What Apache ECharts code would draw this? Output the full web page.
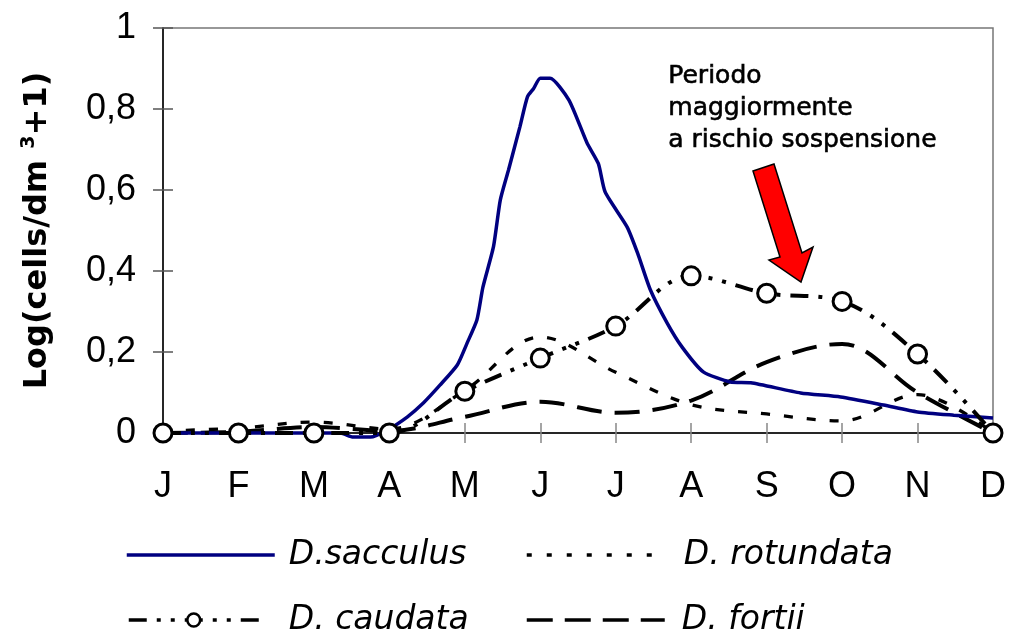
<!DOCTYPE html>
<html>
<head>
<meta charset="utf-8">
<script src="https://cdn.jsdelivr.net/npm/echarts@6/dist/echarts.min.js"></script>
<style>html,body{margin:0;padding:0;background:#fff}#c{width:1013px;height:642px}</style>
</head>
<body>
<div id="c"></div>
<script>
// ---- data ----
const months = ['J','F','M','A','M','J','J','A','S','O','N','D'];
const yTickLabels = ['0','0,2','0,4','0,6','0,8','1'];
// D. sacculus: denser sampling (position in months from January = 0)
const saccX = [0, 2.35, 2.52, 2.75, 2.97, 3.24, 3.45, 3.67, 3.90, 4.03, 4.16, 4.24, 4.38, 4.47, 4.58, 4.73, 4.83, 4.91, 5.0, 5.13, 5.38, 5.62, 5.77, 5.86, 6.15, 6.29, 6.46, 6.68, 6.88, 7.16, 7.52, 7.79, 8.45, 8.98, 9.55, 10.0, 10.48, 11.0];
const saccY = [0, 0, -0.01, -0.01, 0.007, 0.04, 0.074, 0.118, 0.168, 0.222, 0.279, 0.36, 0.46, 0.575, 0.65, 0.756, 0.83, 0.85, 0.876, 0.876, 0.822, 0.716, 0.665, 0.595, 0.509, 0.444, 0.353, 0.272, 0.212, 0.151, 0.126, 0.124, 0.099, 0.089, 0.069, 0.052, 0.044, 0.037];
const rotundata = [0.005, 0.012, 0.027, 0.01, 0.105, 0.237, 0.15, 0.07, 0.047, 0.03, 0.095, 0];
const caudata   = [0, 0, 0, 0, 0.103, 0.185, 0.264, 0.388, 0.345, 0.325, 0.195, 0];
const fortii    = [0, 0.003, 0.015, 0.005, 0.04, 0.077, 0.05, 0.08, 0.175, 0.22, 0.1, 0];

const names = ['D.sacculus', 'D. rotundata', 'D. caudata', 'D. fortii'];

const monthly = arr => arr.map((v, i) => [i, v]);
const saccData = saccX.map((x, i) => [x, saccY[i]]);

const chart = echarts.init(document.getElementById('c'), null, {renderer: 'canvas'});

const legendText = p => ({
  fontFamily: 'DejaVu Sans', fontStyle: 'italic', fontSize: 33, color: '#000',
  lineHeight: 36, padding: [0, 0, 0, p]
});
const noSymbol = {color: 'rgba(0,0,0,0)', borderWidth: 0, opacity: 0};

const xBase = {
  type: 'value', min: 0, max: 11, interval: 1, position: 'bottom', gridIndex: 0,
  splitLine: {show: false}
};
const yBase = {
  type: 'value', min: 0, max: 1, interval: 0.2, position: 'left', gridIndex: 0,
  splitLine: {show: false}
};

chart.setOption({
  backgroundColor: '#fff',
  animation: false,
  grid: {left: 163, top: 28, right: 20, bottom: 209, show: true, borderColor: '#777', borderWidth: 1.5},
  xAxis: [
    Object.assign({}, xBase, {
      axisLine: {show: true, lineStyle: {color: '#000', width: 1.5}},
      axisTick: {show: true, inside: false, length: 10, lineStyle: {color: '#888', width: 1.5}},
      axisLabel: {show: true, margin: 36, fontSize: 36, fontFamily: 'Liberation Sans', color: '#000',
        formatter: v => months[Math.round(v)]}
    }),
    Object.assign({}, xBase, {
      axisLine: {show: false},
      axisTick: {show: true, inside: true, length: 10, lineStyle: {color: '#888', width: 1.5}},
      axisLabel: {show: false}
    })
  ],
  yAxis: [
    Object.assign({}, yBase, {
      axisLine: {show: true, lineStyle: {color: '#000', width: 1.5}},
      axisTick: {show: true, inside: false, length: 10, lineStyle: {color: '#555', width: 1.5}},
      axisLabel: {show: true, margin: 27, fontSize: 36, fontFamily: 'Liberation Sans', color: '#000',
        formatter: v => yTickLabels[Math.round(v / 0.2)]},
      name: '{a|Log(cells/dm }{s|3}{a|+1)}',
      nameLocation: 'middle',
      nameGap: 107,
      nameTextStyle: {
        rich: {
          a: {fontFamily: 'DejaVu Sans', fontWeight: 'bold', fontSize: 32, color: '#000'},
          s: {fontFamily: 'DejaVu Sans', fontWeight: 'bold', fontSize: 19, color: '#000', padding: [0, 0, 17, 0]}
        }
      }
    }),
    Object.assign({}, yBase, {
      axisLine: {show: false},
      axisTick: {show: true, inside: true, length: 10, lineStyle: {color: '#555', width: 1.5}},
      axisLabel: {show: false}
    })
  ],
  legend: [
    {data: [{name: names[0], itemStyle: noSymbol}], left: 125, top: 537, padding: 0, itemWidth: 148, itemHeight: 16,
     lineStyle: {width: 3.5}, textStyle: legendText(9), selectedMode: false},
    {data: [{name: names[1], itemStyle: noSymbol}], left: 525, top: 537, padding: 0, itemWidth: 135, itemHeight: 16,
     lineStyle: {width: 3.5, type: [5, 15]}, textStyle: legendText(17), selectedMode: false},
    {data: [names[2]], left: 127, top: 602, padding: 0, itemWidth: 130, itemHeight: 16,
     lineStyle: {width: 3.5}, itemStyle: {borderWidth: 2.5}, textStyle: legendText(25), selectedMode: false},
    {data: [{name: names[3], itemStyle: noSymbol}], left: 525, top: 602, padding: 0, itemWidth: 138, itemHeight: 16,
     lineStyle: {width: 3.5, type: [26, 12]}, textStyle: legendText(12), selectedMode: false}
  ],
  series: [
    {
      name: names[1], type: 'line', data: monthly(rotundata), smooth: 0.35,
      symbol: 'none', z: 2,
      lineStyle: {color: '#000', width: 3.3, type: [9, 14]}, itemStyle: {color: '#000'}
    },
    {
      name: names[3], type: 'line', data: monthly(fortii), smooth: 0.35,
      symbol: 'none', z: 2,
      lineStyle: {color: '#000', width: 4, type: [25, 13]}, itemStyle: {color: '#000'}
    },
    {
      name: names[0], type: 'line', data: saccData, smooth: 0.2, clip: false,
      symbol: 'none', z: 3,
      lineStyle: {color: '#000080', width: 3.5}, itemStyle: {color: '#000080'}
    },
    {
      name: names[2], type: 'line', data: monthly(caudata), smooth: 0.35,
      symbol: 'circle', symbolSize: 18, showSymbol: true, z: 4,
      lineStyle: {color: '#000', width: 4, type: [18, 10, 4, 10, 4, 10]},
      itemStyle: {color: '#fff', borderColor: '#000', borderWidth: 3}
    }
  ],
  graphic: [
    {
      type: 'text', left: 668, top: 60, z: 10,
      style: {
        text: 'Periodo\nmaggiormente\na rischio sospensione',
        fontFamily: 'DejaVu Sans', fontSize: 25, lineHeight: 32, fill: '#000',
        stroke: '#000', lineWidth: 0.6
      }
    },
    {
      type: 'polygon', z: 10,
      shape: {points: [[753, 171], [774, 164], [802, 253], [813, 247], [801, 282], [769, 260], [780, 257]]},
      style: {fill: '#ff0000', stroke: '#000', lineWidth: 1.5}
    }
  ]
});
</script>
</body>
</html>
